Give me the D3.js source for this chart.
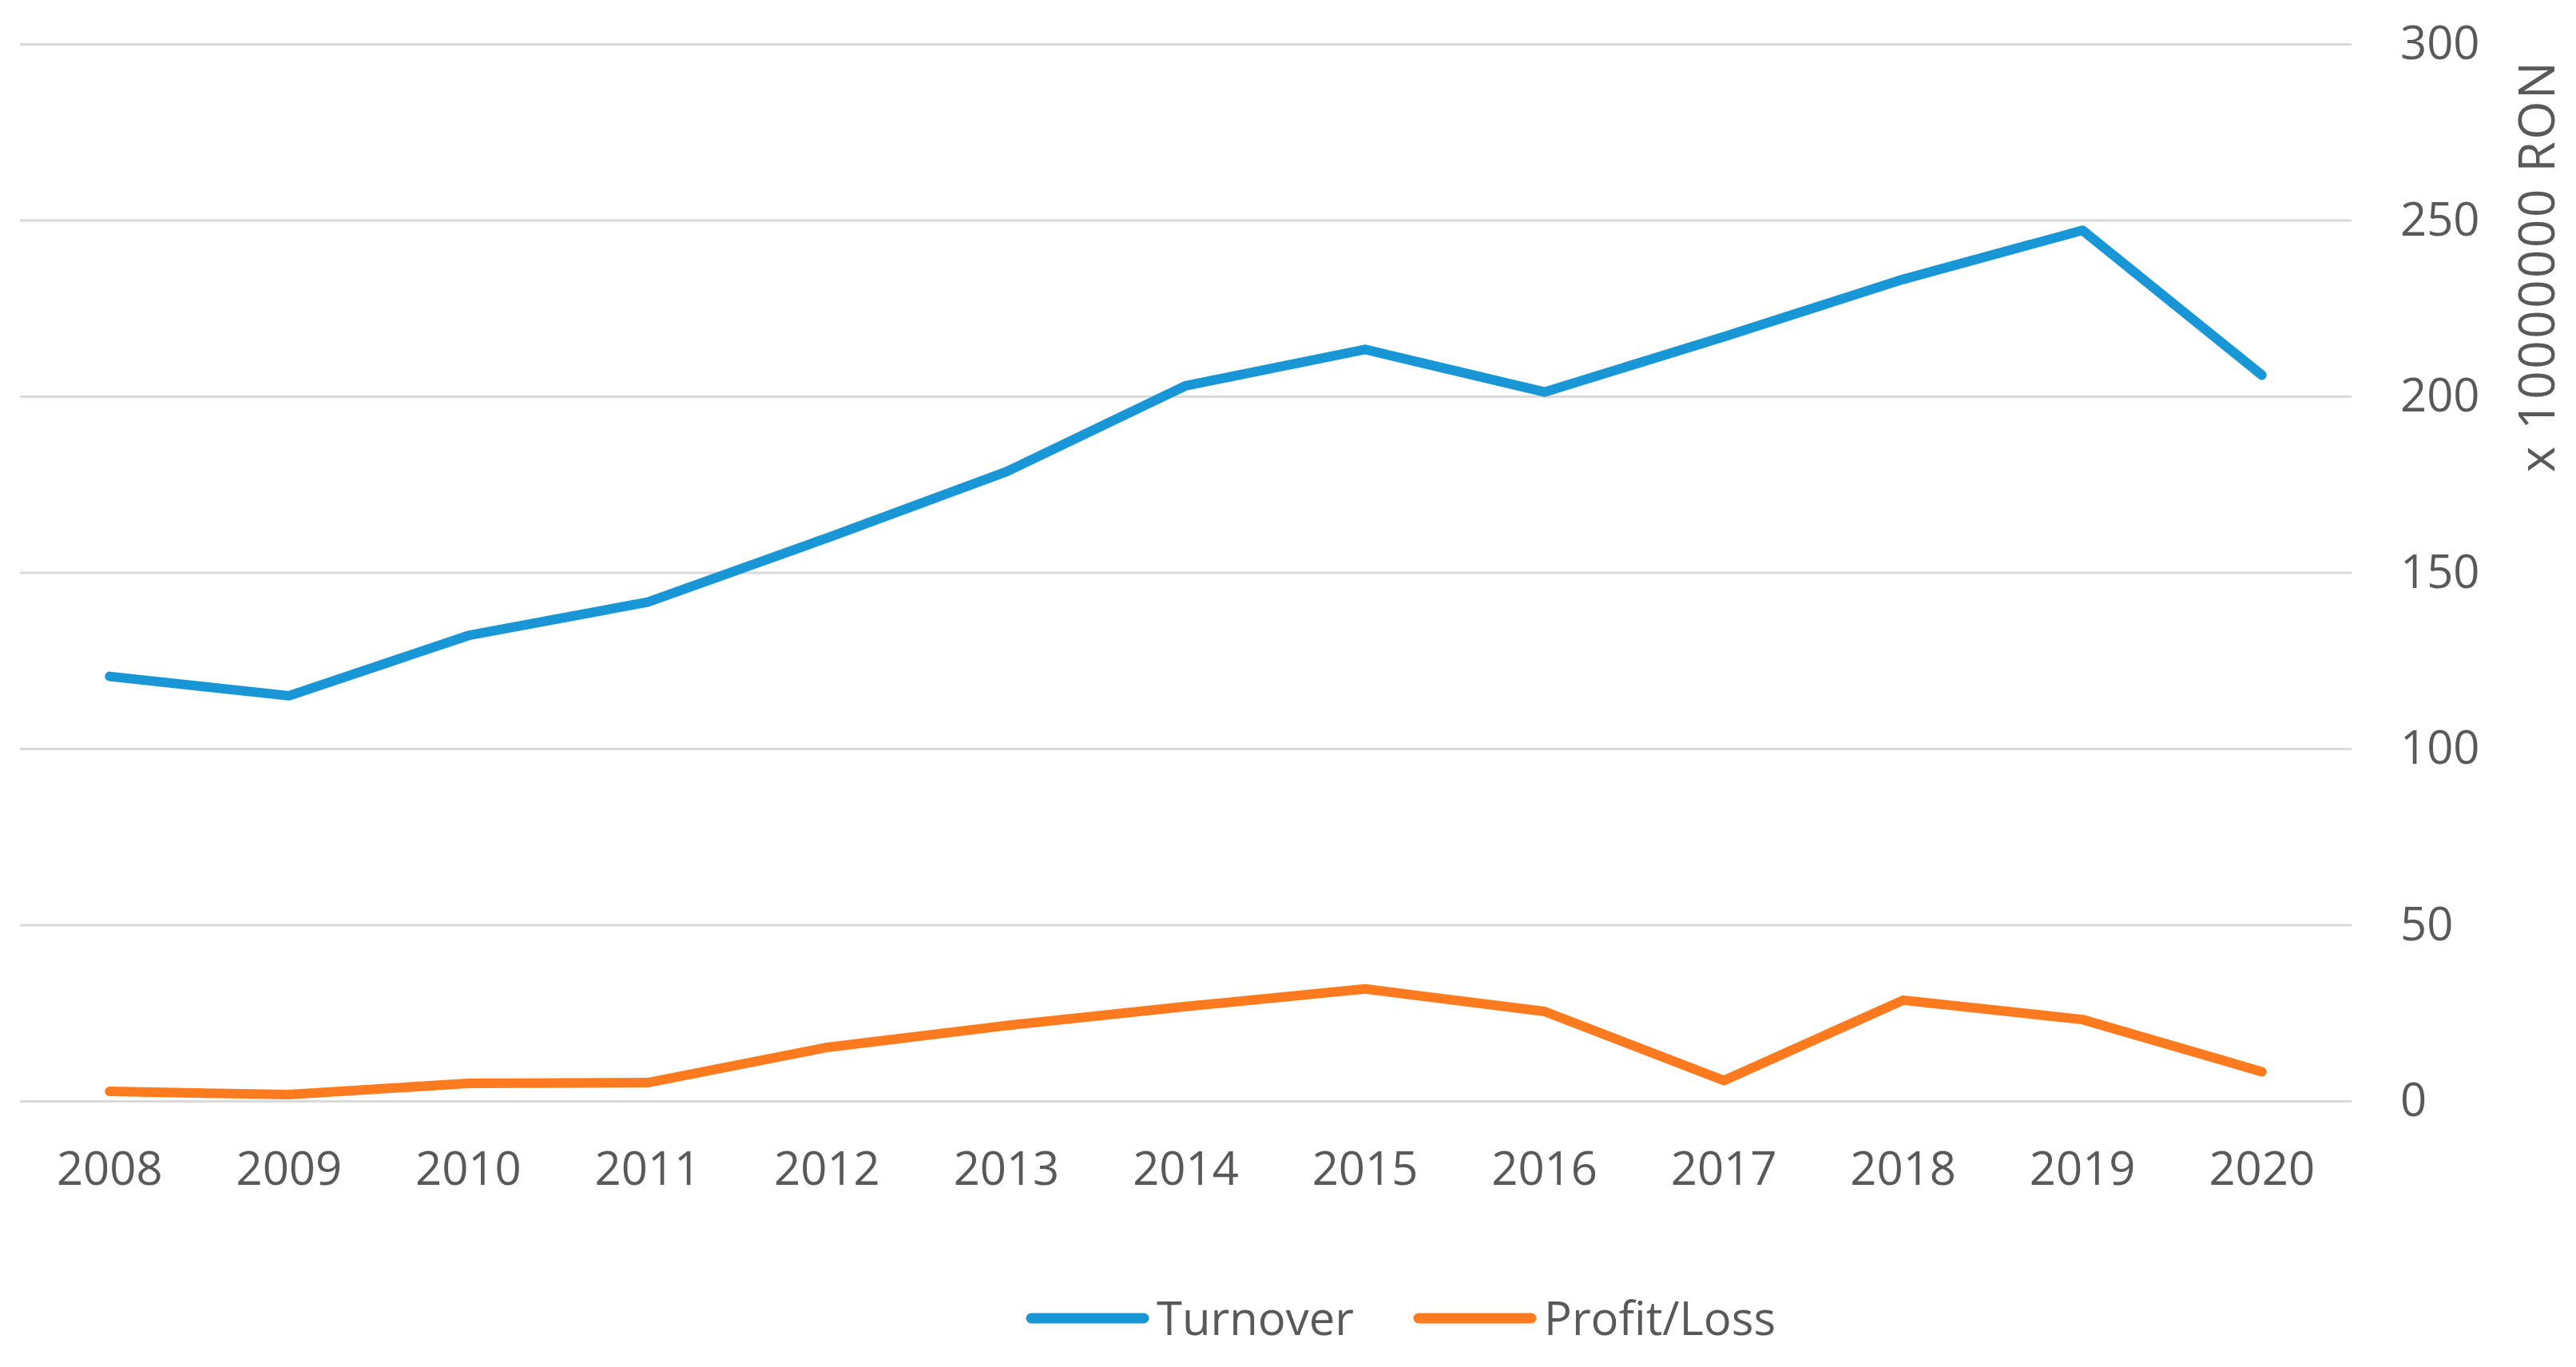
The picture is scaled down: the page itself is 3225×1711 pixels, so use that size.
<!DOCTYPE html>
<html>
<head>
<meta charset="utf-8">
<script src="https://cdn.jsdelivr.net/npm/d3@7"></script>
<style>
    body { margin: 0; background: #fff; }
    text { font-family: "Open Sans", "Noto Sans", sans-serif; fill: #595959; }
</style>
</head>
<body>
<div class="LineChart"></div>
<script>
// values (x 10000000 RON)
const years = ["2008", "2009", "2010", "2011", "2012", "2013", "2014", "2015", "2016", "2017", "2018", "2019", "2020"];
const turnover = [120.5, 115, 132.1, 141.6, 159.8, 178.6, 203, 213.3, 201.2, 216.9, 233.2, 247.1, 206];
const profitLoss = [2.7, 1.8, 5, 5.2, 15.2, 21.4, 26.8, 31.8, 25.4, 5.8, 28.6, 23.1, 8.3];
const yTicks = [0, 50, 100, 150, 200, 250, 300];
const seriesNames = ["Turnover", "Profit/Loss"];
const seriesColors = ["#1996D5", "#FE7A1E"];

const width = 3225, height = 1711;
const svg = d3.select(".LineChart").append("svg")
    .attr("width", width).attr("height", height);

const plotLeft = 25, plotRight = 2944, plotTop = 55, plotBottom = 1378;

let x = d3.scaleBand().domain(years).range([plotLeft, plotRight]).paddingInner(0);
let y = d3.scaleLinear().domain([0, 300]).range([plotBottom, plotTop]);

// gridlines
let grid = svg.append("g")
    .attr("transform", "translate(" + plotRight + ",0)")
    .call(d3.axisLeft(y).tickValues(yTicks).tickSize(plotRight - plotLeft).tickFormat(""));
grid.select(".domain").remove();
grid.selectAll(".tick line").attr("stroke", "#d9d9d9").attr("stroke-width", 3);

// right value axis labels
let yAxis = svg.append("g")
    .attr("transform", "translate(" + plotRight + ",0)")
    .call(d3.axisRight(y).tickValues(yTicks).tickSize(0).tickPadding(61));
yAxis.select(".domain").remove();
yAxis.attr("font-family", null).attr("font-size", null);
yAxis.selectAll("text").attr("font-size", "58px");

// category axis
let xAxis = svg.append("g")
    .attr("transform", "translate(0," + plotBottom + ")")
    .call(d3.axisBottom(x).tickSize(0).tickPadding(64));
xAxis.select(".domain").remove();
xAxis.attr("font-family", null).attr("font-size", null);
xAxis.selectAll("text").attr("font-size", "58px");

// axis title
svg.append("text")
    .attr("transform", "translate(3198,333) rotate(-90)")
    .attr("text-anchor", "middle")
    .attr("font-size", "62px")
    .attr("letter-spacing", "2.5px")
    .text("x 10000000 RON");

// lines
const line = d3.line()
    .x((d, i) => x(years[i]) + x.bandwidth() / 2)
    .y(d => y(d));

[turnover, profitLoss].forEach((values, i) => {
    svg.append("path")
        .datum(values)
        .attr("fill", "none")
        .attr("stroke", seriesColors[i])
        .attr("stroke-width", 12)
        .attr("stroke-linejoin", "round")
        .attr("stroke-linecap", "round")
        .attr("d", line);
});

// legend
const legendX = [1291, 1776];
const legend = svg.append("g");
seriesNames.forEach((name, i) => {
    legend.append("line")
        .attr("x1", legendX[i]).attr("x2", legendX[i] + 141)
        .attr("y1", 1650).attr("y2", 1650)
        .attr("stroke", seriesColors[i])
        .attr("stroke-width", 13)
        .attr("stroke-linecap", "round");
    legend.append("text")
        .attr("x", legendX[i] + 157)
        .attr("y", 1671)
        .attr("font-size", "58px")
        .text(name);
});
</script>
</body>
</html>
